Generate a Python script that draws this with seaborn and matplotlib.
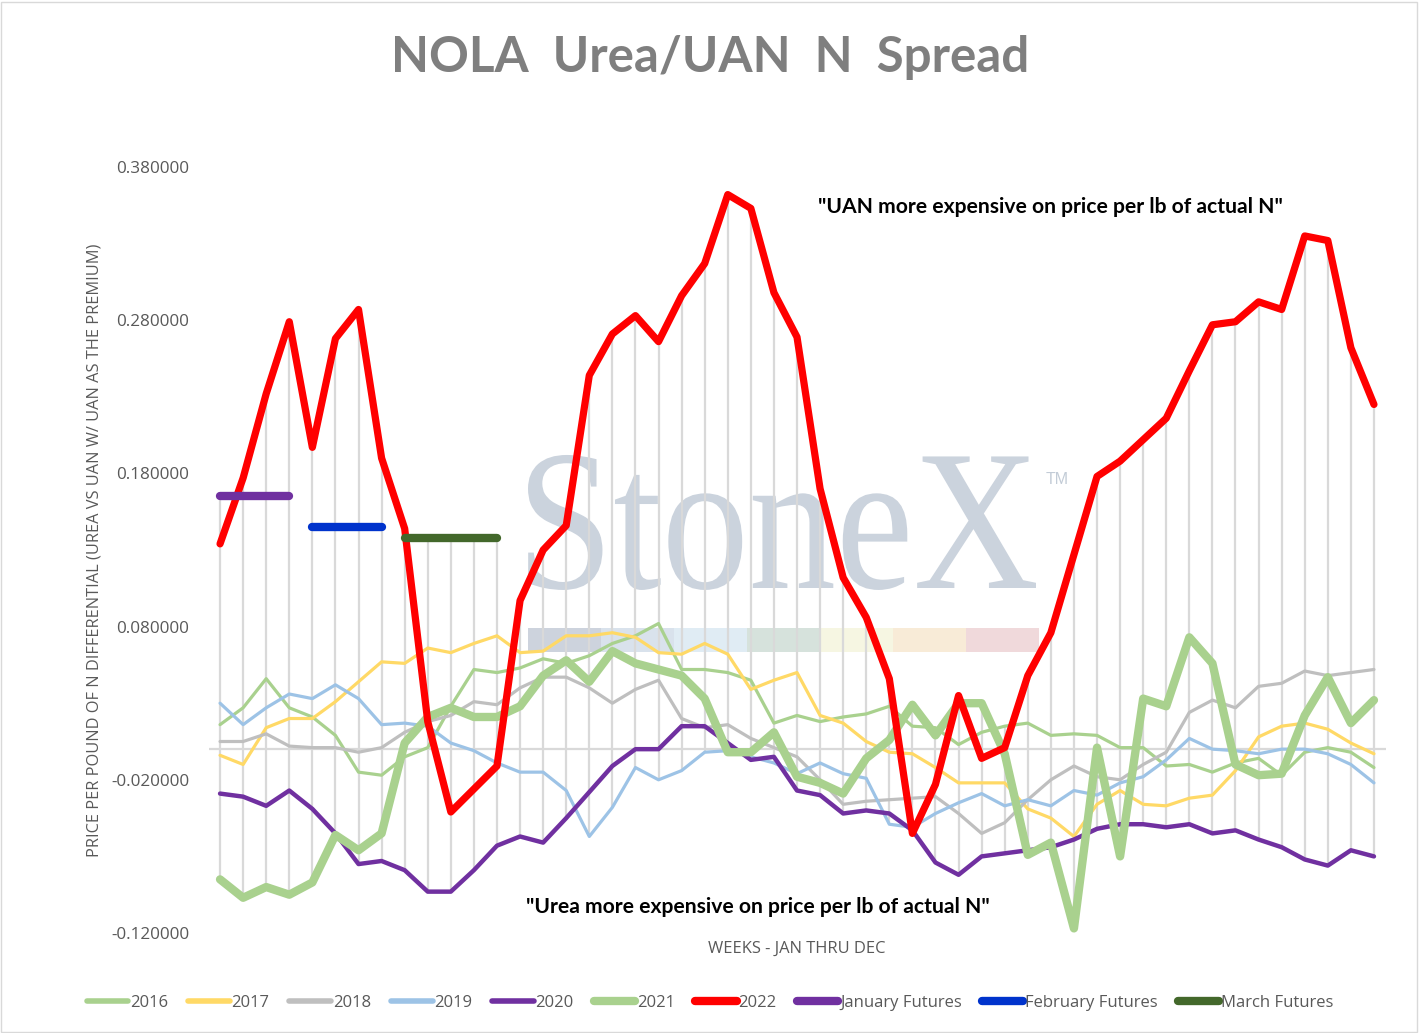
import pandas as pd
import seaborn as sns
import numpy as np
import matplotlib.pyplot as plt
from matplotlib.lines import Line2D
from matplotlib.patches import Rectangle, PathPatch
from matplotlib.textpath import TextPath
from matplotlib.font_manager import FontProperties
from matplotlib.transforms import Affine2D

sns.set_style('white')
plt.rcParams['font.family'] = ['Open Sans', 'DejaVu Sans']

# weekly spread, 51 weeks
weeks = list(range(51))

s2016 = [0.016, 0.027, 0.046, 0.027, 0.021, 0.009, -0.015, -0.017, -0.005, 0.001,
         0.028, 0.052, 0.050, 0.053, 0.059, 0.056, 0.061, 0.069, 0.074, 0.082,
         0.052, 0.052, 0.050, 0.045, 0.017, 0.022, 0.018, 0.021, 0.023, 0.028,
         0.015, 0.014, 0.003, 0.011, 0.015, 0.017, 0.009, 0.010, 0.009, 0.001,
         0.001, -0.011, -0.010, -0.015, -0.009, -0.006, -0.017, -0.002, 0.001, -0.002,
         -0.012]
s2017 = [-0.004, -0.010, 0.014, 0.020, 0.020, 0.031, 0.044, 0.057, 0.056, 0.066,
         0.063, 0.069, 0.074, 0.063, 0.064, 0.074, 0.074, 0.076, 0.073, 0.063,
         0.062, 0.069, 0.062, 0.039, 0.045, 0.050, 0.022, 0.017, 0.005, -0.002,
         -0.003, -0.012, -0.022, -0.022, -0.022, -0.039, -0.045, -0.057, -0.036, -0.027,
         -0.036, -0.037, -0.032, -0.030, -0.014, 0.008, 0.015, 0.017, 0.013, 0.004,
         -0.003]
s2018 = [0.005, 0.005, 0.010, 0.002, 0.001, 0.001, -0.002, 0.001, 0.011, 0.018,
         0.022, 0.031, 0.029, 0.040, 0.047, 0.047, 0.040, 0.030, 0.039, 0.045,
         0.020, 0.014, 0.016, 0.007, 0.001, -0.005, -0.020, -0.036, -0.034, -0.033,
         -0.032, -0.031, -0.042, -0.055, -0.048, -0.033, -0.020, -0.011, -0.018, -0.020,
         -0.010, -0.002, 0.024, 0.032, 0.027, 0.041, 0.043, 0.051, 0.048, 0.050,
         0.052]
s2019 = [0.030, 0.016, 0.027, 0.036, 0.033, 0.042, 0.033, 0.016, 0.017, 0.015,
         0.004, -0.001, -0.009, -0.015, -0.015, -0.027, -0.057, -0.038, -0.012, -0.020,
         -0.014, -0.002, -0.001, -0.005, -0.009, -0.016, -0.009, -0.016, -0.019, -0.049,
         -0.051, -0.042, -0.035, -0.029, -0.037, -0.033, -0.037, -0.027, -0.030, -0.022,
         -0.018, -0.007, 0.007, 0.000, -0.001, -0.003, 0.000, 0.000, -0.003, -0.010,
         -0.022]
s2020 = [-0.029, -0.031, -0.037, -0.027, -0.039, -0.055, -0.075, -0.073, -0.079, -0.093,
         -0.093, -0.079, -0.063, -0.057, -0.061, -0.045, -0.028, -0.011, 0.000, 0.000,
         0.015, 0.015, 0.004, -0.007, -0.005, -0.027, -0.030, -0.042, -0.040, -0.042,
         -0.053, -0.074, -0.082, -0.070, -0.068, -0.066, -0.064, -0.059, -0.052, -0.049,
         -0.049, -0.051, -0.049, -0.055, -0.053, -0.059, -0.064, -0.072, -0.076, -0.066,
         -0.070]
s2021 = [-0.085, -0.097, -0.090, -0.095, -0.087, -0.056, -0.066, -0.055, 0.004, 0.021,
         0.027, 0.021, 0.021, 0.028, 0.048, 0.058, 0.044, 0.064, 0.056, 0.052,
         0.048, 0.033, -0.002, -0.002, 0.011, -0.018, -0.022, -0.029, -0.006, 0.006,
         0.029, 0.009, 0.030, 0.030, -0.003, -0.069, -0.061, -0.117, 0.001, -0.070,
         0.033, 0.028, 0.073, 0.056, -0.010, -0.017, -0.016, 0.022, 0.047, 0.017,
         0.032]
s2022 = [0.134, 0.177, 0.232, 0.279, 0.197, 0.268, 0.287, 0.190, 0.144, 0.018,
         -0.041, -0.026, -0.011, 0.097, 0.130, 0.146, 0.244, 0.271, 0.283, 0.266,
         0.296, 0.317, 0.362, 0.353, 0.298, 0.269, 0.170, 0.112, 0.086, 0.046,
         -0.055, -0.023, 0.035, -0.006, 0.001, 0.048, 0.076, 0.127, 0.178, 0.188,
         0.202, 0.216, 0.247, 0.277, 0.279, 0.292, 0.287, 0.335, 0.332, 0.262,
         0.225]

# futures levels
jan_weeks = [0, 1, 2, 3]
jan_fut = [0.165, 0.165, 0.165, 0.165]
feb_weeks = [4, 5, 6, 7]
feb_fut = [0.145, 0.145, 0.145, 0.145]
mar_weeks = [8, 9, 10, 11, 12]
mar_fut = [0.138, 0.138, 0.138, 0.138, 0.138]

yticks = [0.38, 0.28, 0.18, 0.08, -0.02, -0.12]

green = '#A9D18E'
series = [
    ('2016', s2016, green, 2.3),
    ('2017', s2017, '#FFD966', 2.3),
    ('2018', s2018, '#BFBFBF', 2.3),
    ('2019', s2019, '#9DC3E6', 2.3),
    ('2020', s2020, '#7030A0', 3.2),
    ('2021', s2021, green, 6.0),
    ('2022', s2022, '#FF0000', 5.2),
]
futures = [
    ('January Futures', jan_weeks, jan_fut, '#7030A0'),
    ('February Futures', feb_weeks, feb_fut, '#0033CC'),
    ('March Futures', mar_weeks, mar_fut, '#43682B'),
]

W, H = 1420, 1033
AX_L, AX_B, AX_W, AX_H = 208.5, 100, 1177, 766

fig = plt.figure(figsize=(W / 100, H / 100), dpi=100)
ax = fig.add_axes([AX_L / W, AX_B / H, AX_W / W, AX_H / H])


def px_box(x0, x1, ytop, ybot):
    # pixel box (from top-left) -> axes fractions
    return ((x0 - AX_L) / AX_W, (H - ybot - AX_B) / AX_H,
            (x1 - x0) / AX_W, (ybot - ytop) / AX_H)


# high-low lines (Excel style)
allv = pd.DataFrame({n: v for n, v, c, w in series})
for n, wk, v, c in futures:
    allv[n] = pd.Series(v, index=wk)
ax.vlines(weeks, allv.min(axis=1), allv.max(axis=1), color='#D9D9D9', lw=1.6, zorder=1)
ax.axhline(0, color='#D9D9D9', lw=1.6, zorder=1)

# watermark, squeezed to the logo's box
wm = '#CBD3DD'
tp = TextPath((0, 0), 'StoneX', size=1, prop=FontProperties(family='Liberation Serif'))
ext = tp.get_extents()
bx, by, bw, bh = px_box(528, 1036, 455, 588)
tr = (Affine2D().translate(-ext.x0, 0).scale(bw / ext.width, bh / 0.662).translate(bx, by)
      + ax.transAxes)
ax.add_patch(PathPatch(tp, transform=tr, color=wm, lw=0, zorder=0.5))
tbx, tby, _, _ = px_box(1046, 1070, 469, 484)
ax.text(tbx, tby, 'TM', transform=ax.transAxes, fontsize=11.5, color='#C3CCD7', zorder=0.5,
        family='Liberation Sans')
band = ['#C8CFDA', '#D5DFEA', '#DDEAF3', '#D2DFD9', '#F6F5DF', '#F8E9D3', '#EFD5D8']
for i, c in enumerate(band):
    rx, ry, rw, rh = px_box(528 + 73 * i, 601 + 73 * i, 628, 652)
    ax.add_patch(Rectangle((rx, ry), rw, rh, transform=ax.transAxes, color=c, alpha=0.9,
                           lw=0, zorder=0.5))

for name, vals, color, lw in series:
    sns.lineplot(x=weeks, y=vals, ax=ax, color=color, lw=lw, zorder=3, legend=False,
                 solid_joinstyle='round')
for name, wk, vals, color in futures:
    sns.lineplot(x=wk, y=vals, ax=ax, color=color, lw=6, zorder=4, legend=False,
                 solid_capstyle='round')

ax.set_xlim(-0.5, 50.5)
ax.set_ylim(-0.12, 0.38)
ax.set_xticks([])
ax.set_yticks(yticks)
ax.set_yticklabels([f'{t:.6f}' for t in yticks], color='#595959', fontsize=12.3)
ax.tick_params(axis='y', length=0, pad=14)
for s in ax.spines.values():
    s.set_visible(False)

ax.set_ylabel('PRICE PER POUND OF N DIFFERENTIAL (UREA VS UAN W/ UAN AS THE PREMIUM)',
              color='#595959', fontsize=11.8, labelpad=6)
ax.set_xlabel('WEEKS - JAN THRU DEC', color='#595959', fontsize=11.9, labelpad=6)

fig.text(0.5, 0.944, 'NOLA  Urea/UAN  N  Spread', ha='center', va='center',
         fontsize=35.5, fontweight='bold', color='#7F7F7F', family='Lato')
ax.text(36, 0.354, '"UAN more expensive on price per lb of actual N"', ha='center', va='center',
        fontsize=15.2, fontweight='bold', color='black', family='Lato')
ax.text(23.3, -0.103, '"Urea more expensive on price per lb of actual N"', ha='center', va='center',
        fontsize=15.2, fontweight='bold', color='black', family='Lato')

handles = [Line2D([], [], color=c, lw=4 if lw < 5 else 6, solid_capstyle='round')
           for n, v, c, lw in series]
handles += [Line2D([], [], color=c, lw=6, solid_capstyle='round') for n, w, v, c in futures]
labels = [n for n, v, c, lw in series] + [n for n, w, v, c in futures]
leg = fig.legend(handles, labels, loc='center', bbox_to_anchor=(0.5, 0.029), ncol=10,
                 frameon=False, fontsize=12, handlelength=2.5, handletextpad=0.1,
                 columnspacing=1.2)
for t in leg.get_texts():
    t.set_color('#595959')

fig.patches.append(Rectangle((0.001, 0.001), 0.997, 0.997, transform=fig.transFigure,
                             fill=False, edgecolor='#D9D9D9', lw=1))

plt.savefig('out.png', dpi=100)
